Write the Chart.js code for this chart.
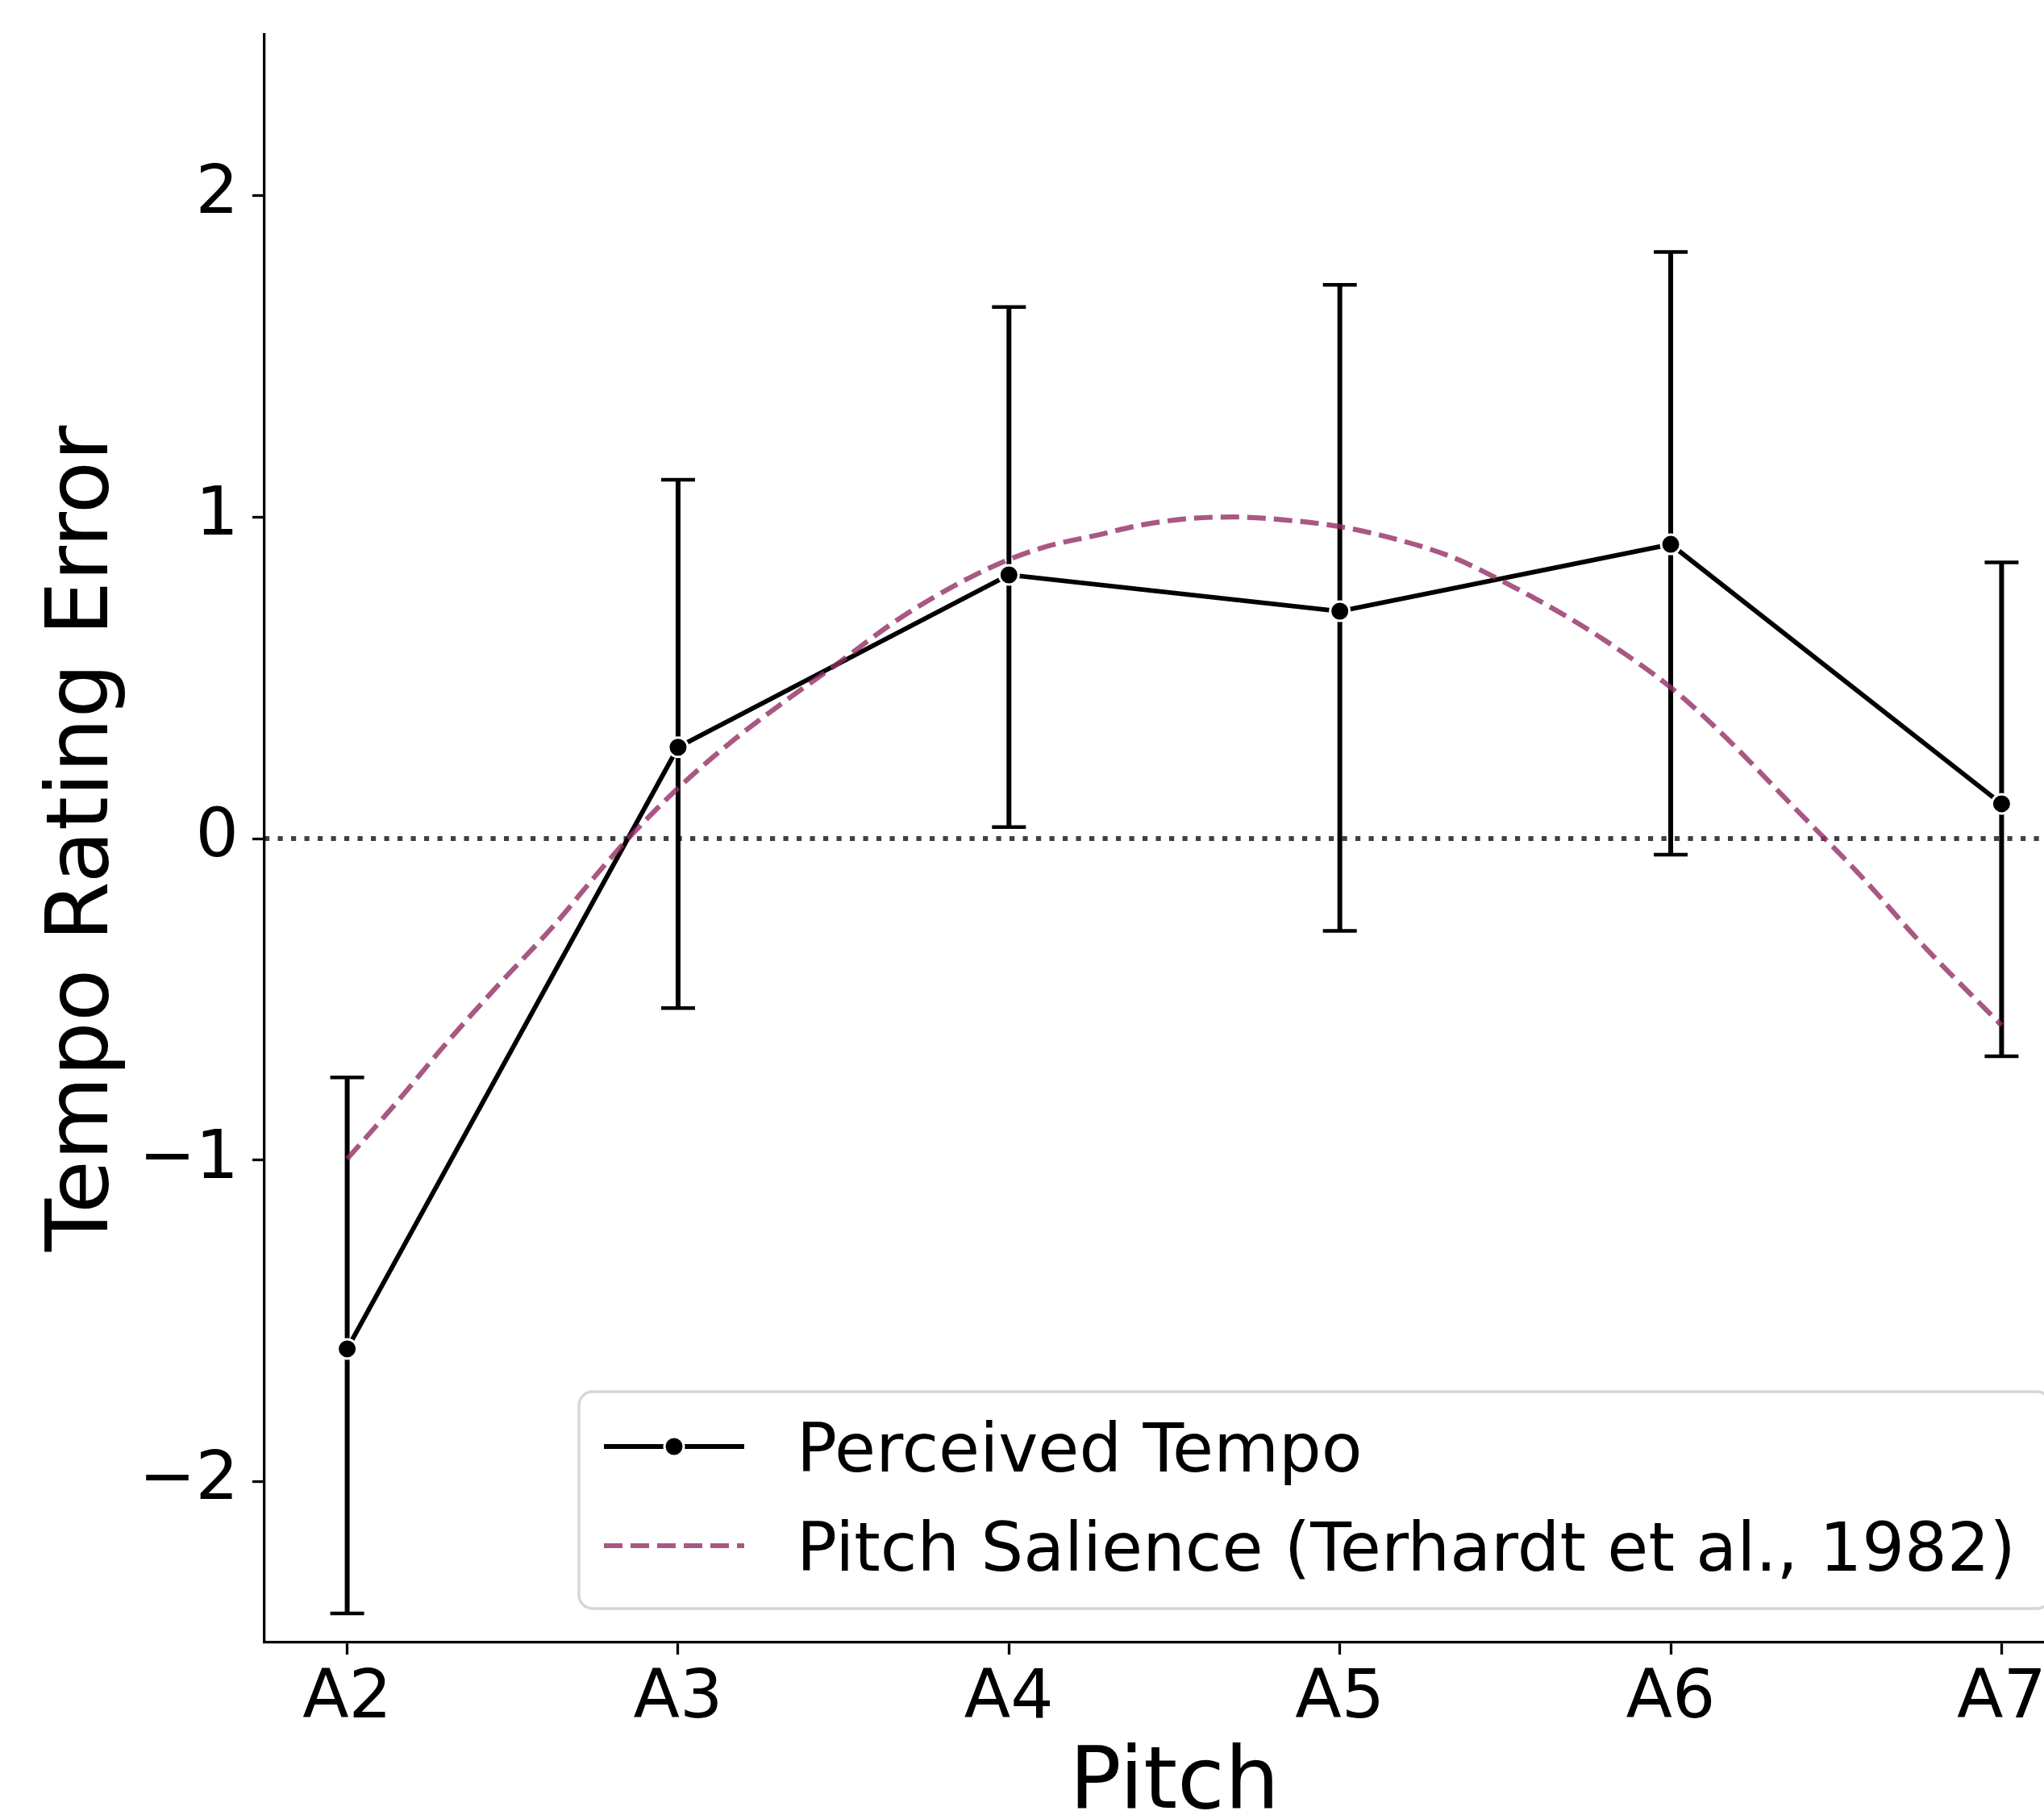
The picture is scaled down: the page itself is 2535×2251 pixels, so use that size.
<!DOCTYPE html>
<html><head><meta charset="utf-8">
<script src="https://cdn.jsdelivr.net/npm/chart.js@4/dist/chart.umd.min.js"></script>
<style>
html,body{margin:0;padding:0;background:#fff;overflow:hidden;}
#wrap{position:absolute;left:0;top:0;width:2600px;height:2268px;}
</style></head><body>
<div id="wrap"><canvas id="c" width="2600" height="2268"></canvas></div>
<script>
// ---- data ----
const pitchLabels = ['A2', 'A3', 'A4', 'A5', 'A6', 'A7'];
const pitchPositions = [0, 1, 2, 3, 4, 5];
const tempoMean  = [-1.587, 0.284, 0.820, 0.707, 0.915, 0.108];
const tempoLower = [-2.410, -0.527, 0.036, -0.287, -0.050, -0.677];
const tempoUpper = [-0.743, 1.116, 1.653, 1.722, 1.824, 0.859];
const salienceX = [0, 0.15, 0.30, 0.46, 0.62, 0.77, 0.86, 1.00, 1.16, 1.32, 1.47, 1.67, 1.86, 2.00, 2.12, 2.26, 2.40, 2.54, 2.68, 2.82, 3.00, 3.17, 3.34, 3.52, 3.66, 3.80, 4.00, 4.15, 4.37, 4.57, 4.77, 5.00];
const salienceY = [-0.996, -0.820, -0.636, -0.452, -0.276, -0.092, 0.012, 0.157, 0.300, 0.425, 0.535, 0.685, 0.800, 0.868, 0.910, 0.942, 0.975, 0.995, 1.000, 0.992, 0.970, 0.931, 0.875, 0.785, 0.706, 0.617, 0.470, 0.331, 0.100, -0.111, -0.340, -0.581];
const yTicks = [-2, -1, 0, 1, 2];
const xRange = [-0.25, 5.25];
const yRange = [-2.5, 2.5];
const zeroLineX = [-0.25, 5.25];
const zeroLineY = [0, 0];
const seriesLabels = ['Perceived Tempo', 'Pitch Salience (Terhardt et al., 1982)'];

const FONT = "'DejaVu Sans', 'Liberation Sans', sans-serif";
const salienceColor = 'rgba(146,46,99,0.8)';

const errorBarPlugin = {
  id: 'errorBars',
  beforeDatasetsDraw(chart) {
    const {ctx, scales: {x, y}} = chart;
    ctx.save();
    ctx.strokeStyle = '#000';
    ctx.lineCap = 'butt';
    pitchPositions.forEach((p, i) => {
      const px = x.getPixelForValue(p);
      const top = y.getPixelForValue(tempoUpper[i]);
      const bot = y.getPixelForValue(tempoLower[i]);
      ctx.lineWidth = 6;
      ctx.beginPath(); ctx.moveTo(px, top); ctx.lineTo(px, bot); ctx.stroke();
      ctx.lineWidth = 4.5;
      ctx.beginPath();
      ctx.moveTo(px - 21, top); ctx.lineTo(px + 21, top);
      ctx.moveTo(px - 21, bot); ctx.lineTo(px + 21, bot);
      ctx.stroke();
    });
    ctx.restore();
  }
};

const innerLegendPlugin = {
  id: 'innerLegend',
  afterDraw(chart) {
    const {ctx, chartArea} = chart;
    const pad = 42;
    const right = chartArea.right - pad;
    const bottom = chartArea.bottom - pad;
    const left = 718;
    const top = 1726;
    const r = 17;
    ctx.save();
    ctx.beginPath();
    ctx.moveTo(left + r, top);
    ctx.lineTo(right - r, top);
    ctx.arcTo(right, top, right, top + r, r);
    ctx.lineTo(right, bottom - r);
    ctx.arcTo(right, bottom, right - r, bottom, r);
    ctx.lineTo(left + r, bottom);
    ctx.arcTo(left, bottom, left, bottom - r, r);
    ctx.lineTo(left, top + r);
    ctx.arcTo(left, top, left + r, top, r);
    ctx.closePath();
    ctx.fillStyle = 'rgba(255,255,255,0.8)';
    ctx.fill();
    ctx.lineWidth = 3.3;
    ctx.strokeStyle = 'rgba(204,204,204,0.8)';
    ctx.stroke();

    const ds = chart.data.datasets;
    const rows = [68, 191];
    const hx0 = left + 31, hx1 = left + 205;
    const tx = left + 270;
    [0, 1].forEach((k) => {
      const d = ds.find(s => s.label === seriesLabels[k]);
      const yy = top + rows[k];
      ctx.save();
      ctx.strokeStyle = d.borderColor;
      ctx.lineWidth = d.borderWidth;
      ctx.setLineDash(d.borderDash || []);
      ctx.lineCap = 'butt';
      ctx.beginPath(); ctx.moveTo(hx0, yy); ctx.lineTo(hx1, yy); ctx.stroke();
      ctx.setLineDash([]);
      if (d.pointRadius > 0) {
        ctx.beginPath();
        ctx.arc((hx0 + hx1) / 2, yy, d.pointRadius, 0, Math.PI * 2);
        ctx.fillStyle = d.pointBackgroundColor;
        ctx.fill();
        ctx.lineWidth = d.pointBorderWidth;
        ctx.strokeStyle = d.pointBorderColor;
        ctx.stroke();
      }
      ctx.restore();
      ctx.fillStyle = '#000';
      ctx.font = '83px ' + FONT;
      ctx.textBaseline = 'alphabetic';
      ctx.textAlign = 'left';
      ctx.fillText(d.label, tx, yy + 30.5);
    });
    ctx.restore();
  }
};

new Chart(document.getElementById('c'), {
  type: 'line',
  data: {
    datasets: [
      {
        label: seriesLabels[1],
        data: salienceX.map((v, i) => ({x: v, y: salienceY[i]})),
        borderColor: salienceColor,
        borderWidth: 6.2,
        borderDash: [23, 10],
        borderCapStyle: 'butt',
        pointRadius: 0,
        fill: false,
        cubicInterpolationMode: 'monotone'
      },
      {
        label: seriesLabels[0],
        data: pitchPositions.map((v, i) => ({x: v, y: tempoMean[i]})),
        borderColor: '#000',
        borderWidth: 5.8,
        tension: 0,
        pointRadius: 12,
        pointBackgroundColor: '#000',
        pointBorderColor: '#fff',
        pointBorderWidth: 3,
        fill: false
      },
      {
        label: 'zero',
        data: zeroLineX.map((v, i) => ({x: v, y: zeroLineY[i]})),
        borderColor: 'rgba(0,0,0,0.75)',
        borderWidth: 6.2,
        borderDash: [6.2, 10.3],
        borderCapStyle: 'butt',
        pointRadius: 0,
        fill: false
      }
    ]
  },
  options: {
    responsive: false,
    animation: false,
    devicePixelRatio: 1,
    layout: {padding: {left: 0, top: 43, right: 15, bottom: 0}},
    plugins: {legend: {display: false}, tooltip: {enabled: false}},
    scales: {
      x: {
        type: 'linear',
        min: xRange[0], max: xRange[1],
        afterFit(s) { s.height = 231; s.paddingLeft = 0; s.paddingRight = 0; },
        afterBuildTicks(s) { s.ticks = pitchPositions.map(v => ({value: v})); },
        grid: {drawOnChartArea: false, drawTicks: true, tickLength: 15, tickWidth: 3.3, tickColor: '#000'},
        border: {display: true, color: '#000', width: 3.3},
        ticks: {
          autoSkip: false, maxRotation: 0, padding: 6, color: '#000',
          font: {family: FONT, size: 84, lineHeight: 1.2},
          callback: (v) => { const i = pitchPositions.indexOf(v); return i >= 0 ? pitchLabels[i] : ''; }
        },
        title: {display: true, text: 'Pitch', color: '#000', font: {family: FONT, size: 107, lineHeight: 1}, padding: {top: 0, bottom: 0}}
      },
      y: {
        type: 'linear',
        min: yRange[0], max: yRange[1],
        afterFit(s) { s.width = 328; s.paddingTop = 0; s.paddingBottom = 0; },
        afterBuildTicks(s) { s.ticks = yTicks.map(v => ({value: v})); },
        grid: {drawOnChartArea: false, drawTicks: true, tickLength: 15, tickWidth: 3.3, tickColor: '#000'},
        border: {display: true, color: '#000', width: 3.3},
        ticks: {
          autoSkip: false, padding: 17, color: '#000',
          font: {family: FONT, size: 84, lineHeight: 1.2},
          callback: (v) => (v < 0 ? '\u2212' + Math.abs(v) : String(v))
        },
        title: {display: true, text: 'Tempo Rating Error', color: '#000', font: {family: FONT, size: 107, lineHeight: 1}, padding: {top: 52, bottom: 0}}
      }
    }
  },
  plugins: [errorBarPlugin, innerLegendPlugin]
});
</script>
</body></html>
